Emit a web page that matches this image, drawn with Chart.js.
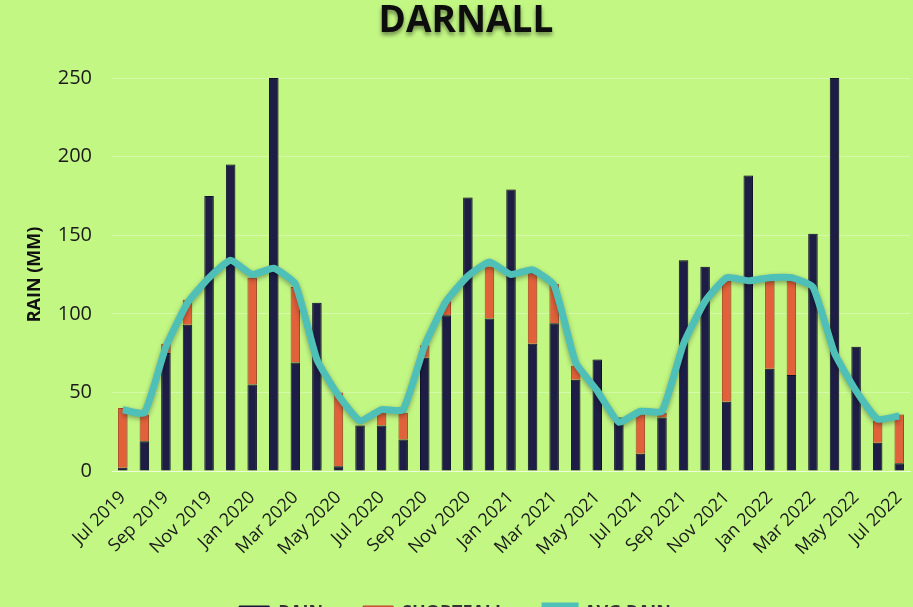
<!DOCTYPE html>
<html>
<head>
<meta charset="utf-8">
<script src="https://cdn.jsdelivr.net/npm/chart.js@4.4.1/dist/chart.umd.min.js"></script>
<style>
  html, body { margin: 0; padding: 0; background: #c2f784; overflow: hidden; }
  #wrap { width: 913px; height: 632px; }
</style>
</head>
<body>
<div id="wrap"><canvas id="rainChart" width="913" height="632"></canvas></div>
<script>
// monthly values, Jul 2019 - Jul 2022
var months = ['Jul 2019', 'Aug 2019', 'Sep 2019', 'Oct 2019', 'Nov 2019', 'Dec 2019',
  'Jan 2020', 'Feb 2020', 'Mar 2020', 'Apr 2020', 'May 2020', 'Jun 2020',
  'Jul 2020', 'Aug 2020', 'Sep 2020', 'Oct 2020', 'Nov 2020', 'Dec 2020',
  'Jan 2021', 'Feb 2021', 'Mar 2021', 'Apr 2021', 'May 2021', 'Jun 2021',
  'Jul 2021', 'Aug 2021', 'Sep 2021', 'Oct 2021', 'Nov 2021', 'Dec 2021',
  'Jan 2022', 'Feb 2022', 'Mar 2022', 'Apr 2022', 'May 2022', 'Jun 2022', 'Jul 2022'];

var rain = [2, 19, 75, 93, 175, 195, 55, 250, 69, 107, 3, 29,
  29, 20, 72, 99, 174, 97, 179, 81, 94, 58, 71, 34,
  11, 34, 134, 130, 44, 188, 65, 61, 151, 250, 79, 18, 5];

var shortfall = [38, 17, 6, 16, 0, 0, 68, 0, 48, 0, 47, 0,
  8, 17, 8, 9, 0, 33, 0, 45, 25, 9, 0, 0,
  25, 3, 0, 0, 77, 0, 56, 60, 0, 0, 0, 14, 31];

var average = [39, 37, 79, 107, 123, 134, 125, 129, 119, 71, 48, 32,
  39, 39, 80, 108, 124, 133, 125, 128, 118, 69, 51, 31,
  38, 38, 81, 108, 123, 121, 123, 123, 117, 75, 51, 33, 35];

var yTicks = [0, 50, 100, 150, 200, 250];

var CANVAS_H = 632;
var PLOT_BOTTOM = 471;

var shadowPlugin = {
  id: 'shadows',
  beforeDatasetDraw: function (chart, args) {
    var ctx = chart.ctx;
    ctx.save();
    if (args.meta.type === 'line') {
      ctx.shadowColor = 'rgba(0,0,0,0.35)';
      ctx.shadowBlur = 5;
      ctx.shadowOffsetY = 2;
    } else {
      ctx.shadowColor = 'rgba(0,0,0,0.25)';
      ctx.shadowBlur = 3;
      ctx.shadowOffsetX = 1;
    }
  },
  afterDatasetDraw: function (chart) {
    chart.ctx.restore();
  },
  afterDraw: function (chart) {
    var ctx = chart.ctx;
    ctx.save();
    ctx.font = 'bold 37px "Open Sans"';
    ctx.textAlign = 'center';
    ctx.textBaseline = 'middle';
    ctx.shadowColor = 'rgba(0,0,0,0.45)';
    ctx.shadowBlur = 4;
    ctx.shadowOffsetY = 3;
    ctx.fillStyle = '#0d0d0d';
    ctx.fillText('DARNALL', 466, 21);
    ctx.restore();
  }
};

new Chart('rainChart', {
  type: 'bar',
  data: {
    labels: months,
    datasets: [{
      label: 'RAIN',
      data: rain,
      backgroundColor: '#1e1d45',
      borderColor: '#14132e',
      borderWidth: 1,
      barPercentage: 0.44,
      categoryPercentage: 1,
      stack: 'rain',
      order: 1
    }, {
      label: 'SHORTFALL',
      data: shortfall,
      backgroundColor: '#e0613a',
      borderColor: '#b54a2b',
      borderWidth: 1,
      barPercentage: 0.44,
      categoryPercentage: 1,
      stack: 'rain',
      order: 1
    }, {
      type: 'line',
      label: 'AVG RAIN',
      data: average,
      borderColor: '#4fc0b8',
      backgroundColor: '#4fc0b8',
      borderWidth: 7,
      pointRadius: 0,
      tension: 0.15,
      order: 0
    }]
  },
  options: {
    responsive: false,
    animation: false,
    layout: { padding: { top: 78, right: 3, left: 0, bottom: 0 } },
    plugins: {
      title: { display: false },
      tooltip: { enabled: false },
      legend: {
        position: 'bottom',
        labels: {
          color: '#333',
          font: { family: '"Open Sans"', size: 18, weight: 'bold' },
          boxWidth: 30,
          boxHeight: 14,
          padding: 40,
          sort: function (a, b) { return a.datasetIndex - b.datasetIndex; }
        }
      }
    },
    scales: {
      x: {
        stacked: true,
        afterFit: function (scale) {
          var legend = scale.chart.legend;
          scale.height = CANVAS_H - PLOT_BOTTOM - (legend ? legend.height : 0);
          scale.paddingRight = 0;
        },
        grid: { display: false, drawTicks: false },
        border: { color: 'rgba(255,255,255,0.6)', width: 1 },
        ticks: {
          autoSkip: false,
          maxRotation: 45,
          minRotation: 45,
          padding: 16,
          color: '#1a1a1a',
          font: { family: '"Open Sans"', size: 18 },
          callback: function (value, index) {
            return index % 2 === 0 ? months[index] : '';
          }
        }
      },
      y: {
        stacked: true,
        min: 0,
        max: 250,
        afterFit: function (scale) { scale.width = 112; },
        afterBuildTicks: function (scale) {
          scale.ticks = yTicks.map(function (v) { return { value: v }; });
        },
        grid: { color: 'rgba(255,255,255,0.3)', drawTicks: false },
        border: { display: false },
        title: {
          display: true,
          text: 'RAIN (MM)',
          color: '#111',
          font: { family: '"Open Sans"', size: 18, weight: 'bold' },
          padding: { top: 24, bottom: 0 }
        },
        ticks: {
          padding: 20,
          color: '#1a1a1a',
          font: { family: '"Open Sans"', size: 20 }
        }
      }
    }
  },
  plugins: [shadowPlugin]
});
</script>
</body>
</html>
